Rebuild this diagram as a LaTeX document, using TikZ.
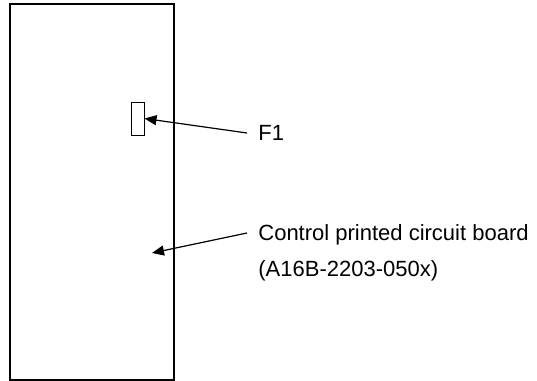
\documentclass[tikz,border=0pt]{standalone}
\usepackage{fontspec}
\setmainfont{Liberation Sans}
\usetikzlibrary{arrows.meta}

\begin{document}
\begin{tikzpicture}[
        x=0.5pt, y=-0.5pt,
        board/.style={rectangle, draw=black, line width=0.8pt, minimum width=82pt, minimum height=188pt, inner sep=0pt},
        fuse/.style={rectangle, draw=black, line width=0.5pt, minimum width=6.5pt, minimum height=16.5pt, inner sep=0pt},
        callout/.style={anchor=west, inner sep=5.5pt, font=\fontsize{11pt}{13pt}\selectfont, text height=0.72em, text depth=0pt},
        arrow/.style={->, >={Triangle[length=6pt, width=5pt]}, line width=0.6pt}
    ]
        \useasboundingbox (0,0) rectangle (537,381);
        \node[board] (pcb) at (92,192) {};
        \node[fuse] (fuse) at (137.5,118.5) {};
        \coordinate (pcbpoint) at (152,253);

        \node[callout] (f1) at (247,133) {F1};
        \node[callout] (pcblabel) at (247,233) {Control printed circuit board};
        \node[callout] (partno) at (247,269) {(A16B-2203-050x)};

        \draw[arrow] (f1.west) -- (fuse.east);
        \draw[arrow] (pcblabel.west) -- (pcbpoint);
\end{tikzpicture}
\end{document}
